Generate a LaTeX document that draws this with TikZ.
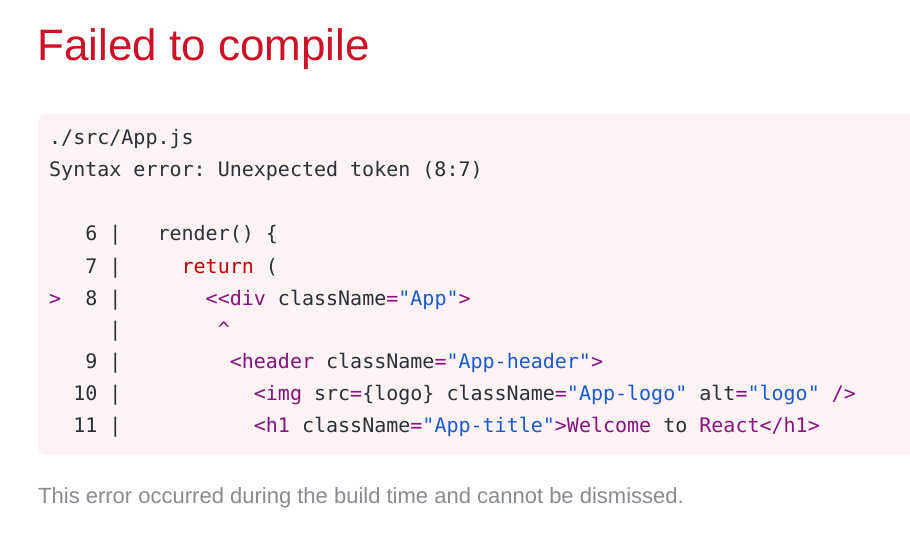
\documentclass[tikz,border=0pt]{standalone}
\usepackage{fontspec}
\setmainfont{Liberation Sans}
\setmonofont{DejaVu Sans Mono}
\usetikzlibrary{positioning}
\definecolor{errred}{HTML}{CE1126}
\definecolor{boxpink}{HTML}{FDF2F4}
\definecolor{codedark}{HTML}{293238}
\definecolor{tagpurple}{HTML}{881280}
\definecolor{strblue}{HTML}{1A5BD1}
\definecolor{kwred}{HTML}{C80000}
\definecolor{notegray}{HTML}{888C90}
\newcommand{\tagtxt}[1]{\textcolor{tagpurple}{#1}}
\newcommand{\strtxt}[1]{\textcolor{strblue}{#1}}
\newcommand{\kwtxt}[1]{\textcolor{kwred}{#1}}
\tikzstyle{codeline} = [anchor=base west, inner sep=0, text=codedark, font=\ttfamily\fontsize{20}{24}\selectfont]
\tikzstyle{plain} = [anchor=base west, inner sep=0]

\begin{document}
\begin{tikzpicture}[x=1pt, y=-1pt]
				\useasboundingbox (0,0) rectangle (910,546);
				\node (title) [plain, text=errred, font=\fontsize{44}{52}\selectfont] at (37,60) {Failed to compile};
				\fill [boxpink, rounded corners=8pt] (38,114) rectangle (940,455);
				\node (file_path) [codeline] at (49,144) {./src/App.js};
				\node (syntax_msg) [codeline] at (49,176) {Syntax error: Unexpected token (8:7)};
				\node (line_six) [codeline] at (49,240) {~~~6~|~~~render() \{};
				\node (line_seven) [codeline] at (49,273) {~~~7~|~~~~~\kwtxt{return} (};
				\node (line_eight) [codeline] at (49,305) {\tagtxt{>}~~8~|~~~~~~~\tagtxt{<<div} className\tagtxt{=}\strtxt{"App"}\tagtxt{>}};
				\node (caret_line) [codeline] at (49,336) {~~~~~|~~~~~~~~\tagtxt{\textasciicircum}};
				\node (line_nine) [codeline] at (49,368) {~~~9~|~~~~~~~~~\tagtxt{<header} className\tagtxt{=}\strtxt{"App-header"}\tagtxt{>}};
				\node (line_ten) [codeline] at (49,400) {~~10~|~~~~~~~~~~~\tagtxt{<img} src\tagtxt{=}\{logo\} className\tagtxt{=}\strtxt{"App-logo"} alt\tagtxt{=}\strtxt{"logo"} \tagtxt{/>}};
				\node (line_eleven) [codeline] at (49,432) {~~11~|~~~~~~~~~~~\tagtxt{<h1} className\tagtxt{=}\strtxt{"App-title"}\tagtxt{>Welcome} to \tagtxt{React</h1>}};
				\node (build_note) [plain, text=notegray, font=\fontsize{22}{26}\selectfont] at (38,503) {This error occurred during the build time and cannot be dismissed.};
			\end{tikzpicture}
\end{document}
